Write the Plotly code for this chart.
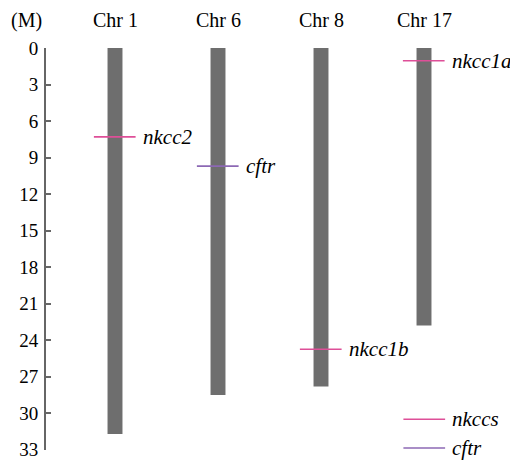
import plotly.graph_objects as go

chromosomes = ["Chr 1", "Chr 6", "Chr 8", "Chr 17"]
chrom_lengths = [31.7, 28.5, 27.8, 22.8]

gene_names = ["nkcc2", "cftr", "nkcc1b", "nkcc1a"]
gene_chrom = [0, 1, 2, 3]
gene_pos = [7.3, 9.7, 24.75, 1.05]
gene_type = ["nkcc", "cftr", "nkcc", "nkcc"]

legend_names = ["nkccs", "cftr"]
legend_types = ["nkcc", "cftr"]
legend_pos = [30.5, 32.85]

y_ticks = [0, 3, 6, 9, 12, 15, 18, 21, 24, 27, 30, 33]

colors = {"nkcc": "#de4f98", "cftr": "#8c68b4"}
FONT = "Liberation Serif"
BAR_COLOR = "#6e6e6e"
AXIS_COLOR = "#666666"
YMAX = 33.02

fig = go.Figure()

fig.add_trace(go.Bar(
    x=list(range(len(chromosomes))), y=chrom_lengths, base=0,
    width=0.145, marker=dict(color=BAR_COLOR, line=dict(width=0)),
    showlegend=False, hoverinfo="skip"))

for name, c, p, t in zip(gene_names, gene_chrom, gene_pos, gene_type):
    fig.add_trace(go.Scatter(
        x=[c - 0.205, c + 0.2], y=[p, p], mode="lines",
        line=dict(color=colors[t], width=1.6),
        showlegend=False, hoverinfo="skip", cliponaxis=False))
    fig.add_annotation(x=c + 0.25, y=p, text="<i>%s</i>" % name, showarrow=False,
                       xanchor="left", yanchor="middle", xref="x", yref="y",
                       font=dict(family=FONT, size=21, color="black"))

# legend drawn at the lower right (x in chromosome units, y in paper units)
for name, t, p in zip(legend_names, legend_types, legend_pos):
    yp = 1 - p / YMAX
    fig.add_shape(type="line", xref="x", yref="paper", x0=3 - 0.2, x1=3 + 0.205,
                  y0=yp, y1=yp, line=dict(color=colors[t], width=1.6), layer="above")
    fig.add_annotation(x=3 + 0.25, y=yp, text="<i>%s</i>" % name, showarrow=False,
                       xanchor="left", yanchor="middle", xref="x", yref="paper",
                       font=dict(family=FONT, size=21, color="black"))

for i, ch in enumerate(chromosomes):
    fig.add_annotation(x=i, y=1, yref="paper", yshift=28, text=ch, showarrow=False,
                       xanchor="center", yanchor="middle",
                       font=dict(family=FONT, size=20, color="black"))

fig.add_annotation(x=0, xref="paper", y=1, yref="paper", xshift=-20, yshift=28,
                   text="(M)", showarrow=False, xanchor="center", yanchor="middle",
                   font=dict(family=FONT, size=20, color="black"))

L, R, T, B = 46, 0, 48, 11
px_per_unit = 103.0
x0 = -(115 - L) / px_per_unit
x1 = x0 + (510 - L - R) / px_per_unit

fig.update_layout(
    width=510, height=461,
    margin=dict(l=L, r=R, t=T, b=B, pad=0, autoexpand=False),
    paper_bgcolor="white", plot_bgcolor="white",
    showlegend=False,
    font=dict(family=FONT, size=20, color="black"),
    xaxis=dict(range=[x0, x1], visible=False, fixedrange=True, automargin=False),
    yaxis=dict(range=[YMAX, 0], tickvals=y_ticks, ticktext=[str(v) for v in y_ticks],
               showline=True, linecolor=AXIS_COLOR, linewidth=2, automargin=False,
               ticks="inside", ticklen=5, tickwidth=1.5, tickcolor=AXIS_COLOR,
               showgrid=False, zeroline=False, ticklabeloverflow="allow",
               tickfont=dict(family=FONT, size=19, color="black"),
               ticklabelstandoff=2),
)

fig.write_html("out.html")
